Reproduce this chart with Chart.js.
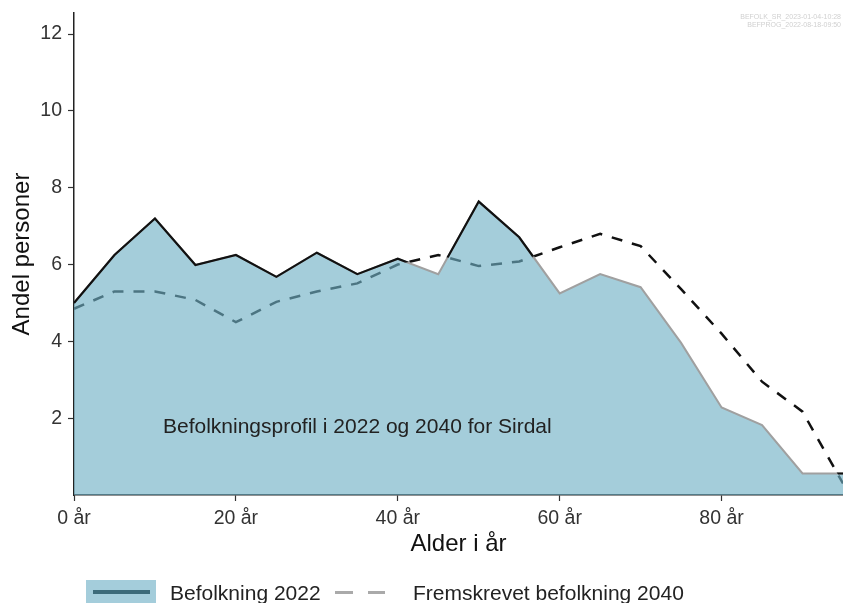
<!DOCTYPE html>
<html lang="no">
  <head>
    <meta charset="UTF-8" />
    <title>Befolkningsprofil Sirdal</title>
    <style>
      body {
        margin: 0;
        padding: 0;
        background-color: #fff;
        font-family: "Liberation Sans", Arial, sans-serif;
      }
      .wrap {
        position: relative;
        width: 843px;
        height: 603px;
        overflow: hidden;
      }
      #chart {
        position: absolute;
        left: 0;
        top: 0;
      }
      .key-area {
        position: absolute;
        left: 86px;
        top: 580px;
        width: 70px;
        height: 30px;
        background-color: #a4cddb;
      }
      .key-area div {
        position: absolute;
        left: 7px;
        top: 10px;
        width: 57px;
        height: 4px;
        background-color: #3d6b7a;
      }
      .key-dash {
        position: absolute;
        top: 591px;
        height: 3px;
        background-color: #aaa;
      }
      .key-text {
        position: absolute;
        top: 581px;
        font-size: 21px;
        line-height: 24px;
        color: #222;
        white-space: nowrap;
      }
    </style>
  </head>
  <body>
    <div class="wrap">
      <canvas id="chart" width="843" height="603"></canvas>
      <div class="key-area"><div></div></div>
      <div class="key-text" style="left: 170px">Befolkning 2022</div>
      <div class="key-dash" style="left: 335px; width: 18px"></div>
      <div class="key-dash" style="left: 368px; width: 17px"></div>
      <div class="key-text" style="left: 413px">Fremskrevet befolkning 2040</div>
    </div>

    <script src="https://cdn.jsdelivr.net/npm/chart.js@4/dist/chart.umd.min.js"></script>
    <script>
      const ages = [0, 5, 10, 15, 20, 25, 30, 35, 40, 45, 50, 55, 60, 65, 70, 75, 80, 85, 90, 95];
      const pop2022 = [5.0, 6.25, 7.2, 5.99, 6.25, 5.68, 6.31, 5.75, 6.15, 5.75, 7.64, 6.71, 5.25, 5.75, 5.41, 3.96, 2.28, 1.82, 0.56, 0.56];
      const pop2040 = [4.85, 5.3, 5.3, 5.08, 4.5, 5.03, 5.3, 5.51, 6.0, 6.25, 5.96, 6.08, 6.45, 6.8, 6.48, 5.36, 4.2, 2.95, 2.17, 0.3];
      const xTicks = [0, 20, 40, 60, 80];
      const yTicks = [2, 4, 6, 8, 10, 12];
      const note = "Befolkningsprofil i 2022 og 2040 for Sirdal";
      const noteAge = 35;
      const noteShare = 1.77;
      const stamps = ["BEFOLK_SR_2023-01-04-10:28", "BEFPROG_2022-08-18-09:50"];

      const toPoints = (vals) => ages.map((a, i) => ({ x: a, y: vals[i] }));

      Chart.defaults.font.family = '"Liberation Sans", Arial, sans-serif';

      // black line only where 2022 lies above the 2040 line
      const clipAbove = {
        id: "clipAbove",
        beforeDatasetDraw(chart, args) {
          if (args.index !== 2) return;
          const pts = chart.getDatasetMeta(0).data;
          const top = chart.chartArea.top - 10;
          const last = pts[pts.length - 1];
          const ctx = chart.ctx;
          ctx.save();
          ctx.beginPath();
          ctx.moveTo(pts[0].x - 10, top);
          ctx.lineTo(pts[0].x - 10, pts[0].y);
          pts.forEach((p) => ctx.lineTo(p.x, p.y));
          ctx.lineTo(last.x + 10, last.y);
          ctx.lineTo(last.x + 10, top);
          ctx.closePath();
          ctx.clip();
        },
        afterDatasetDraw(chart, args) {
          if (args.index === 2) chart.ctx.restore();
        },
      };

      const labels = {
        id: "labels",
        afterDatasetsDraw(chart) {
          const { ctx, scales } = chart;
          ctx.save();
          ctx.font = '21px "Liberation Sans", Arial, sans-serif';
          ctx.fillStyle = "#222";
          ctx.textAlign = "center";
          ctx.textBaseline = "middle";
          ctx.fillText(note, scales.x.getPixelForValue(noteAge), scales.y.getPixelForValue(noteShare));
          ctx.restore();
        },
        afterDraw(chart) {
          const ctx = chart.ctx;
          ctx.save();
          ctx.font = '7px "Liberation Sans", Arial, sans-serif';
          ctx.fillStyle = "#d0d0d0";
          ctx.textAlign = "right";
          ctx.textBaseline = "middle";
          stamps.forEach((s, i) => ctx.fillText(s, 841, 17 + i * 8));
          ctx.restore();
        },
      };

      new Chart(document.getElementById("chart").getContext("2d"), {
        type: "line",
        data: {
          datasets: [
            {
              label: "Fremskrevet befolkning 2040",
              data: toPoints(pop2040),
              borderColor: "#111",
              borderWidth: 2.5,
              borderDash: [11, 10],
              pointRadius: 0,
              fill: false,
              order: 3,
            },
            {
              label: "Befolkning 2022",
              data: toPoints(pop2022),
              borderColor: "#a0a0a0",
              borderWidth: 2,
              backgroundColor: "rgba(111, 176, 197, 0.63)",
              pointRadius: 0,
              fill: "origin",
              order: 2,
            },
            {
              label: "Befolkning 2022 over",
              data: toPoints(pop2022),
              borderColor: "#111",
              borderWidth: 2.2,
              pointRadius: 0,
              fill: false,
              order: 1,
            },
          ],
        },
        options: {
          responsive: false,
          animation: false,
          layout: { padding: { top: 13, bottom: 44, left: 0, right: 0 } },
          plugins: { legend: { display: false }, tooltip: { enabled: false } },
          scales: {
            x: {
              type: "linear",
              min: 0,
              max: 95,
              afterBuildTicks: (s) => {
                s.ticks = xTicks.map((v) => ({ value: v }));
              },
              afterFit: (s) => {
                s.height = 64;
                s.paddingLeft = 0;
                s.paddingRight = 0;
              },
              ticks: {
                callback: (v) => v + " år",
                font: { size: 19.5 },
                color: "#333",
                padding: 6,
                maxRotation: 0,
                autoSkip: false,
              },
              grid: { drawOnChartArea: false, tickLength: 6, color: "#333", tickWidth: 1.2 },
              border: { color: "#222", width: 1.5 },
              title: {
                display: true,
                text: "Alder i år",
                font: { size: 24 },
                color: "#111",
                padding: { top: 4, bottom: 0 },
              },
            },
            y: {
              min: 0,
              max: 12.55,
              afterBuildTicks: (s) => {
                s.ticks = yTicks.map((v) => ({ value: v }));
              },
              afterFit: (s) => {
                s.width = 74;
                s.paddingTop = 0;
                s.paddingBottom = 0;
              },
              ticks: {
                font: { size: 19.5 },
                color: "#333",
                padding: 6,
              },
              grid: { drawOnChartArea: false, tickLength: 6, color: "#333", tickWidth: 1.2 },
              border: { color: "#222", width: 1.5 },
              title: {
                display: true,
                text: "Andel personer",
                font: { size: 24 },
                color: "#111",
                padding: { top: 8, bottom: 0 },
              },
            },
          },
        },
        plugins: [clipAbove, labels],
      });
    </script>
  </body>
</html>
